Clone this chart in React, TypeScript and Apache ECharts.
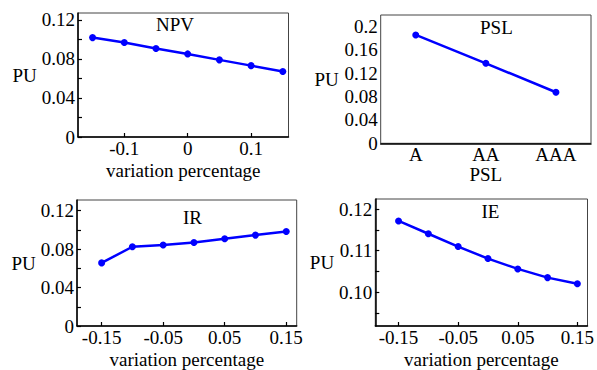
import React, { useEffect, useRef } from "react";
import * as echarts from "echarts";

// ---- data ----
const variation = [-0.15, -0.1, -0.05, 0, 0.05, 0.1, 0.15];
const npvValues = [0.1018, 0.0967, 0.0906, 0.0851, 0.079, 0.0731, 0.067];
const pslCategories = ["A", "AA", "AAA"];
const pslValues = [0.1858, 0.1372, 0.0875];
const irValues = [0.0656, 0.0824, 0.0842, 0.0869, 0.0907, 0.0945, 0.0983];
const ieValues = [0.1172, 0.1141, 0.111, 0.1081, 0.1056, 0.1035, 0.102];

const npvXTicks = [-0.1, 0, 0.1];
const wideXTicks = [-0.15, -0.05, 0.05, 0.15];
const puLabels = [0, 0.04, 0.08, 0.12];
const puMinorTicks = [0, 0.02, 0.04, 0.06, 0.08, 0.1, 0.12];
const pslYLabels = [0, 0.04, 0.08, 0.12, 0.16, 0.2];
const ieYLabels = [0.1, 0.11, 0.12];
const ieYTicks = [0.095, 0.1, 0.105, 0.11, 0.115, 0.12];

const titles = ["NPV", "PSL", "IR", "IE"];

const FONT = "Liberation Serif";
const FS = 19;
const BLUE = "#0000ff";

function pairs(xs: number[], ys: number[]) {
  return xs.map((x, i) => [x, ys[i]]);
}

export default function App() {
  const ref = useRef<HTMLDivElement>(null);

  useEffect(() => {
    if (!ref.current) return;
    const chart = echarts.init(ref.current, null, { renderer: "svg" });

    const grids = [
      { left: 78, top: 13, width: 210.5, height: 124 },
      { left: 380.7, top: 15, width: 210.3, height: 128.3 },
      { left: 77, top: 200, width: 219.7, height: 126.7 },
      { left: 375.3, top: 199, width: 218.4, height: 127.7 },
    ].map((g) => ({
      ...g,
      show: true,
      borderColor: "#444",
      borderWidth: 1,
      backgroundColor: "transparent",
      containLabel: false,
    }));

    const axisLine = { onZero: false, lineStyle: { color: "#000", width: 1.5 } };
    const labelStyle = { color: "#000", fontFamily: FONT, fontSize: FS, fontWeight: "normal" };
    const nameStyle = { color: "#000", fontFamily: FONT, fontSize: FS, fontWeight: "normal" };

    const valueX = (gi: number, min: number, max: number, ticks: number[], name: string) => ({
      type: "value",
      gridIndex: gi,
      min,
      max,
      axisLine,
      splitLine: { show: false },
      axisTick: { inside: true, length: 4, customValues: ticks, lineStyle: { color: "#000", width: 1.2 } },
      axisLabel: {
        ...labelStyle,
        margin: 2,
        customValues: ticks,
        formatter: (v: number) => String(v),
      },
      name,
      nameLocation: "middle",
      nameGap: 24,
      nameTextStyle: nameStyle,
    });

    const valueY = (
      gi: number,
      min: number,
      max: number,
      labels: number[],
      ticks: number[],
      gap: number,
      fmt: (v: number) => string
    ) => ({
      type: "value",
      gridIndex: gi,
      min,
      max,
      axisLine,
      splitLine: { show: false },
      axisTick: { inside: true, length: 4, customValues: ticks, lineStyle: { color: "#000", width: 1.2 } },
      axisLabel: { ...labelStyle, margin: 3, customValues: labels, formatter: fmt },
      name: "PU",
      nameLocation: "middle",
      nameRotate: 0,
      nameGap: gap,
      nameTextStyle: nameStyle,
    });

    const lineSeries = (gi: number, data: any[]) => ({
      type: "line",
      xAxisIndex: gi,
      yAxisIndex: gi,
      data,
      symbol: "circle",
      symbolSize: 7,
      lineStyle: { color: BLUE, width: 2.5 },
      itemStyle: { color: BLUE },
    });

    const titlePos = [
      { left: 156, top: 15 },
      { left: 480, top: 18 },
      { left: 183, top: 208 },
      { left: 481.5, top: 202 },
    ];

    chart.setOption({
      animation: false,
      backgroundColor: "#fff",
      textStyle: { fontFamily: FONT, fontSize: FS, color: "#000" },
      title: titles.map((t, i) => ({
        text: t,
        ...titlePos[i],
        padding: 0,
        textStyle: { color: "#000", fontFamily: FONT, fontSize: FS, fontWeight: "normal" },
      })),
      grid: grids,
      xAxis: [
        valueX(0, -0.173, 0.159, npvXTicks, "variation percentage"),
        {
          type: "category",
          gridIndex: 1,
          data: pslCategories,
          boundaryGap: true,
          axisLine,
          axisTick: { inside: true, length: 4, alignWithLabel: true, lineStyle: { color: "#000", width: 1.2 } },
          axisLabel: { ...labelStyle, margin: 2 },
          splitLine: { show: false },
          name: "PSL",
          nameLocation: "middle",
          nameGap: 19,
          nameTextStyle: nameStyle,
        },
        valueX(2, -0.19, 0.167, wideXTicks, "variation percentage"),
        valueX(3, -0.189, 0.167, wideXTicks, "variation percentage"),
      ],
      yAxis: [
        valueY(0, 0, 0.127, puLabels, puMinorTicks, 41, (v) => String(v)),
        valueY(1, 0, 0.22, pslYLabels, pslYLabels, 42, (v) => String(v)),
        valueY(2, 0, 0.131, puLabels, puMinorTicks, 40, (v) => String(v)),
        valueY(3, 0.0918, 0.1225, ieYLabels, ieYTicks, 33, (v) => v.toFixed(2)),
      ],
      series: [
        lineSeries(0, pairs(variation, npvValues)),
        lineSeries(1, pslValues),
        lineSeries(2, pairs(variation, irValues)),
        lineSeries(3, pairs(variation, ieValues)),
      ],
    });

    return () => chart.dispose();
  }, []);

  return (
    <div
      ref={ref}
      style={{ position: "fixed", left: 0, top: 0, width: 597, height: 370, background: "#fff" }}
    />
  );
}
